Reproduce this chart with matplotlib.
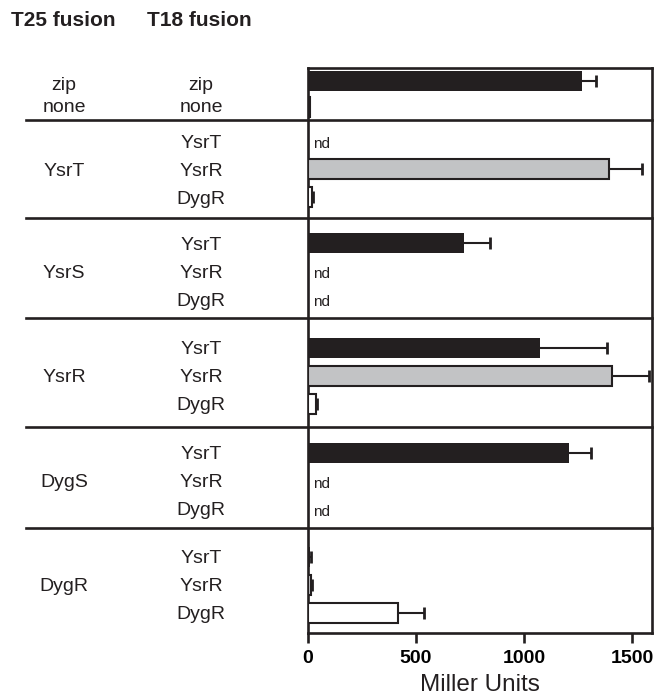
import numpy as np
import matplotlib
matplotlib.use("Agg")
import matplotlib.pyplot as plt
import matplotlib.transforms as mtransforms
from matplotlib.lines import Line2D

plt.rcParams['font.family'] = ['Liberation Sans', 'DejaVu Sans']

# ---------------- data ----------------
t25_labels = ["zip", "YsrT", "YsrS", "YsrR", "DygS", "DygR"]
t18_labels = [["zip", "none"],
              ["YsrT", "YsrR", "DygR"],
              ["YsrT", "YsrR", "DygR"],
              ["YsrT", "YsrR", "DygR"],
              ["YsrT", "YsrR", "DygR"],
              ["YsrT", "YsrR", "DygR"]]
# None = not determined (nd)
values = [[1270, 8],
          [None, 1393, 20],
          [721, None, None],
          [1076, 1409, 36],
          [1209, None, None],
          [10, 15, 418]]
errors = [[62, 0],
          [None, 152, 4],
          [123, None, None],
          [310, 170, 6],
          [101, None, None],
          [3, 4, 121]]
tick_values = [0, 500, 1000, 1500]
xlabel = "Miller Units"

# ---------------- style ----------------
BLACK = "#231f20"
GRAY = "#c2c3c5"
WHITE = "#ffffff"
color_map = {"zip": BLACK, "YsrT": BLACK, "YsrR": GRAY, "DygR": WHITE, "none": WHITE}

W, H = 656, 697
fig = plt.figure(figsize=(W / 100, H / 100), dpi=100)
ax_left, ax_right, ax_top, ax_bot = 308, 652, 68, 633
ax = fig.add_axes([ax_left / W, 1 - ax_bot / H, (ax_right - ax_left) / W, (ax_bot - ax_top) / H])

# layout in pixel-like units (y downward)
separators = [68, 120, 218, 318, 427, 528, 633]
row_step = [26, 28, 28, 28, 28, 28]
row_offset = [0, 0, 3, 3, 3, 4]
label_shift = [[5, 1], [2, 2, 2], [2, 2, 2], [2, 2, 2], [2, 2, 2], [2, 2, 2]]
bar_h = 20

blend = mtransforms.blended_transform_factory(fig.transFigure, ax.transData)
lw = 1.9

for g in range(len(t25_labels)):
    n = len(t18_labels[g])
    gc = (separators[g] + separators[g + 1]) / 2 + row_offset[g]
    ys = [gc + (i - (n - 1) / 2) * row_step[g] for i in range(n)]
    for i, y in enumerate(ys):
        lab = t18_labels[g][i]
        v = values[g][i]
        e = errors[g][i]
        ly = y + label_shift[g][i]
        ax.text(201 / W, ly, lab, transform=blend, ha='center', va='center', fontsize=14, color=BLACK)
        if g == 0:
            ax.text(64 / W, ly, lab, transform=blend, ha='center', va='center', fontsize=14, color=BLACK)
        if v is None:
            ax.text(22, y + 3, "nd", ha='left', va='center', fontsize=11, color=BLACK)
        else:
            col = color_map[lab]
            ax.barh(y, v, height=bar_h, color=col, edgecolor=BLACK,
                    linewidth=1.5 if col != BLACK else 0.0, zorder=3)
            if e:
                ax.plot([v, v + e], [y, y], color=BLACK, linewidth=1.5, zorder=4,
                        solid_capstyle='butt')
                ax.plot([v + e], [y], marker='|', markersize=9, markeredgewidth=2,
                        color=BLACK, zorder=4)
    if g > 0:
        ax.text(64 / W, gc + 2, t25_labels[g], transform=blend,
                ha='center', va='center', fontsize=14, color=BLACK)

# separators
for s in separators[1:-1]:
    ln = Line2D([26 / W, ax_right / W], [s, s], transform=blend, color=BLACK,
                linewidth=lw, clip_on=False, zorder=5)
    ax.add_line(ln)

ax.set_ylim(separators[-1], separators[0])
ax.set_xlim(0, 1593)
ax.set_yticks([])
ax.set_xticks(tick_values)
ax.set_xticklabels([str(t) for t in tick_values], fontsize=14, fontweight='bold')
ax.tick_params(axis='x', length=7, width=lw, direction='out', pad=5, color=BLACK)
for sp in ax.spines.values():
    sp.set_linewidth(lw)
    sp.set_color(BLACK)
ax.set_xlabel(xlabel, fontsize=17.5, labelpad=5, color=BLACK)

fig.text(11 / W, 1 - 20 / H, "T25 fusion", fontsize=15, fontweight='bold', va='center', ha='left', color=BLACK)
fig.text(147 / W, 1 - 20 / H, "T18 fusion", fontsize=15, fontweight='bold', va='center', ha='left', color=BLACK)

fig.savefig("out.png", dpi=100)
